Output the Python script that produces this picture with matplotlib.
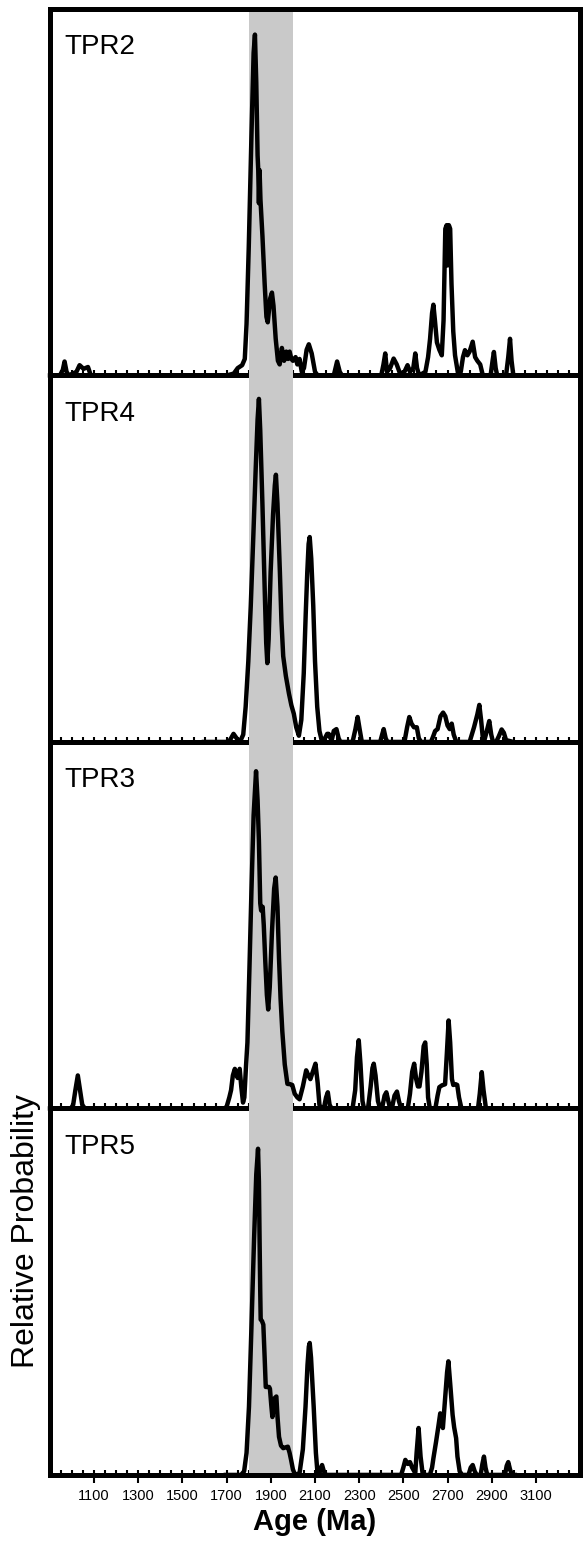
import numpy as np
import matplotlib
matplotlib.use("Agg")
import matplotlib.pyplot as plt

plt.rcParams["font.family"] = ["Liberation Sans", "DejaVu Sans"]

# probability curves: age (Ma) vs relative probability (0-1 of panel height)
tpr2_age = [900, 945, 958, 966, 975, 985, 1020, 1034, 1052, 1072, 1085, 1100,
            1700, 1732, 1750, 1770, 1782, 1790, 1800, 1812, 1822, 1828, 1834, 1840, 1843, 1846,
            1849, 1853, 1862, 1872, 1880, 1886, 1897, 1905, 1912, 1922, 1932, 1940, 1950, 1960,
            1970, 1978, 1985, 1993, 2000, 2012, 2020, 2030, 2040, 2050, 2062, 2072, 2085, 2100,
            2112, 2185, 2200, 2212, 2222,
            2400, 2410, 2418, 2426, 2440, 2456, 2470, 2485, 2505, 2519, 2530, 2545, 2554, 2562,
            2572, 2600, 2612, 2621, 2630, 2636, 2643, 2652, 2663, 2674, 2682, 2690, 2696, 2700,
            2706, 2712, 2718, 2726, 2734, 2749, 2760, 2770, 2779, 2790, 2800, 2814, 2825, 2835,
            2848, 2860, 2895, 2904, 2910, 2918, 2925, 2965, 2975, 2983, 2990, 2998, 3208]
tpr2_prob = [0, 0, 0.015, 0.038, 0.01, 0, 0.01, 0.028, 0.018, 0.023, 0.0, 0,
             0, 0.005, 0.02, 0.028, 0.045, 0.14, 0.35, 0.65, 0.88, 0.93, 0.8, 0.6, 0.56, 0.47,
             0.56, 0.48, 0.38, 0.25, 0.16, 0.145, 0.21, 0.226, 0.19, 0.1, 0.04, 0.03, 0.075, 0.04,
             0.065, 0.045, 0.065, 0.045, 0.04, 0.05, 0.03, 0.045, 0.01, 0.02, 0.07, 0.085, 0.06, 0.01,
             0, 0, 0.038, 0.01, 0,
             0, 0.03, 0.06, 0.01, 0.02, 0.046, 0.03, 0.005, 0.01, 0.028, 0.01, 0.02, 0.06, 0.02,
             0, 0.01, 0.05, 0.1, 0.17, 0.193, 0.15, 0.09, 0.07, 0.055, 0.15, 0.40, 0.41, 0.30,
             0.41, 0.40, 0.25, 0.12, 0.055, 0.0, 0.01, 0.05, 0.069, 0.055, 0.065, 0.092, 0.05, 0.04,
             0.03, 0.0, 0, 0.04, 0.064, 0.02, 0, 0, 0.05, 0.1, 0.04, 0, 0]

tpr4_age = [1597, 1700, 1715, 1731, 1745, 1760, 1775, 1786, 1798, 1809, 1820, 1831, 1840, 1846,
            1852, 1862, 1872, 1879, 1884, 1890, 1899, 1910, 1918, 1923, 1930, 1941, 1948, 1956,
            1968, 1982, 1993, 2004, 2015, 2027, 2038, 2049, 2058, 2065, 2071, 2076, 2083, 2092,
            2100, 2110, 2120, 2132, 2145, 2155, 2162, 2170, 2177, 2185, 2197, 2207, 2215,
            2270, 2283, 2293, 2302, 2312, 2395, 2404, 2411, 2420, 2428, 2505, 2517, 2527, 2537,
            2548, 2561, 2570, 2580, 2625, 2635, 2644, 2655, 2668, 2680, 2690, 2700, 2710, 2719,
            2728, 2740, 2800, 2810, 2820, 2835, 2844, 2852, 2860, 2867, 2878, 2889, 2898, 2906,
            2920, 2932, 2945, 2955, 2965, 2998]
tpr4_prob = [0, 0, 0.005, 0.022, 0.01, 0.0, 0.02, 0.096, 0.22, 0.37, 0.55, 0.738, 0.88, 0.936,
             0.85, 0.647, 0.42, 0.27, 0.215, 0.28, 0.463, 0.62, 0.70, 0.729, 0.65, 0.463, 0.33, 0.234,
             0.18, 0.132, 0.1, 0.077, 0.04, 0.017, 0.06, 0.187, 0.35, 0.463, 0.54, 0.559, 0.50, 0.372,
             0.22, 0.096, 0.03, 0.0, 0.01, 0.022, 0.022, 0.01, 0.008, 0.03, 0.035, 0.01, 0,
             0, 0.035, 0.068, 0.035, 0, 0, 0.02, 0.035, 0.01, 0, 0, 0.04, 0.068, 0.05,
             0.04, 0.04, 0.01, 0, 0.0, 0.015, 0.03, 0.035, 0.07, 0.08, 0.07, 0.045, 0.035, 0.05,
             0.02, 0, 0.0, 0.02, 0.04, 0.075, 0.101, 0.06, 0.01, 0.005, 0.03, 0.057, 0.02, 0.0,
             0.0, 0.015, 0.034, 0.025, 0.005, 0]

tpr3_age = [900, 995, 1005, 1015, 1026, 1036, 1046, 1058, 1690, 1700, 1712, 1720, 1728, 1737,
            1745, 1750, 1759, 1766, 1774, 1780, 1788, 1794, 1803, 1812, 1822, 1833, 1840, 1846,
            1852, 1856, 1863, 1868, 1875, 1882, 1888, 1895, 1905, 1915, 1922, 1930, 1937, 1944,
            1952, 1963, 1975, 1988, 1997, 2008, 2020, 2030, 2045, 2060, 2070, 2079, 2090, 2102,
            2112, 2120, 2128, 2140, 2150, 2158, 2166, 2175, 2270, 2282, 2290, 2298, 2306, 2315,
            2322, 2340, 2352, 2360, 2366, 2374, 2385, 2395, 2405, 2415, 2423, 2432, 2440, 2448,
            2460, 2471, 2480, 2490, 2520, 2530, 2540, 2549, 2558, 2566, 2573, 2582, 2592, 2599,
            2606, 2612, 2620, 2645, 2655, 2663, 2675, 2689, 2697, 2705, 2712, 2720, 2726, 2737,
            2744, 2752, 2763, 2838, 2846, 2855, 2863, 2874, 3005]
tpr3_prob = [0, 0, 0.01, 0.05, 0.09, 0.05, 0.01, 0, 0, 0.005, 0.03, 0.05, 0.09, 0.108,
             0.09, 0.083, 0.108, 0.06, 0.016, 0.03, 0.12, 0.18, 0.38, 0.59, 0.8, 0.92, 0.84, 0.73,
             0.56, 0.54, 0.55, 0.5, 0.4, 0.31, 0.27, 0.33, 0.48, 0.6, 0.63, 0.55, 0.41, 0.3,
             0.21, 0.12, 0.067, 0.066, 0.064, 0.04, 0.03, 0.025, 0.06, 0.104, 0.09, 0.08, 0.1, 0.122,
             0.07, 0.01, 0.0, 0.0, 0.03, 0.044, 0.01, 0, 0, 0.05, 0.14, 0.186, 0.12, 0.02,
             0, 0, 0.06, 0.11, 0.122, 0.09, 0.02, 0, 0.005, 0.035, 0.044, 0.02, 0.0, 0.0,
             0.035, 0.046, 0.02, 0, 0, 0.04, 0.1, 0.122, 0.08, 0.06, 0.06, 0.1, 0.17, 0.18,
             0.12, 0.03, 0, 0, 0.035, 0.058, 0.063, 0.066, 0.15, 0.24, 0.18, 0.08, 0.064, 0.066,
             0.064, 0.03, 0, 0, 0.04, 0.099, 0.05, 0, 0]

tpr5_age = [1696, 1740, 1765, 1779, 1790, 1801, 1812, 1824, 1834, 1842, 1846, 1849, 1852, 1854,
            1860, 1866, 1872, 1877, 1885, 1892, 1896, 1902, 1907, 1912, 1918, 1925, 1930, 1937,
            1946, 1956, 1966, 1977, 1985, 1992, 2000, 2010, 2030, 2045, 2057, 2066, 2072, 2076,
            2082, 2094, 2104, 2112, 2120, 2127, 2132, 2140, 2150, 2490, 2500, 2509, 2520, 2530,
            2540, 2554, 2560, 2569, 2578, 2588, 2620, 2630, 2636, 2648, 2658, 2667, 2673, 2679,
            2688, 2698, 2704, 2712, 2723, 2730, 2739, 2745, 2755, 2766, 2795, 2805, 2814, 2823,
            2832, 2850, 2858, 2865, 2872, 2880, 2960, 2968, 2975, 2983, 2992, 3005]
tpr5_prob = [0, 0, 0.0, 0.01, 0.06, 0.186, 0.4, 0.643, 0.82, 0.89, 0.8, 0.643, 0.5, 0.424,
             0.42, 0.41, 0.32, 0.24, 0.24, 0.24, 0.235, 0.19, 0.158, 0.18, 0.21, 0.214, 0.16, 0.104,
             0.08, 0.073, 0.075, 0.077, 0.06, 0.04, 0.015, 0.0, 0.005, 0.07, 0.186, 0.3, 0.35, 0.36,
             0.32, 0.186, 0.06, 0.0, 0.005, 0.02, 0.027, 0.01, 0.0, 0, 0.02, 0.041, 0.03, 0.035,
             0.02, 0.005, 0.06, 0.128, 0.05, 0, 0, 0.02, 0.045, 0.09, 0.13, 0.168, 0.14, 0.128,
             0.2, 0.28, 0.31, 0.25, 0.164, 0.13, 0.1, 0.05, 0.01, 0, 0, 0.02, 0.027, 0.01,
             0, 0.0, 0.03, 0.05, 0.02, 0, 0, 0.025, 0.035, 0.015, 0, 0]

samples = ["TPR2", "TPR4", "TPR3", "TPR5"]
ages = [tpr2_age, tpr4_age, tpr3_age, tpr5_age]
probs = [tpr2_prob, tpr4_prob, tpr3_prob, tpr5_prob]

band = (1800, 2000)
major_ticks = np.arange(1100, 3101, 200)
minor_ticks = np.arange(950, 3251, 50)

fig = plt.figure(figsize=(5.84, 15.42), dpi=100)
gs = fig.add_gridspec(4, 1, left=0.0856, right=0.9932, top=0.9942, bottom=0.0435, hspace=0)
axes = [fig.add_subplot(gs[i]) for i in range(4)]

SPW = 3.6
for k, ax in enumerate(axes):
    last = k == 3
    ax.set_facecolor("none")
    ax.set_xlim(900, 3300)
    ax.set_ylim(0, 1)
    ax.set_yticks([])
    for s in ax.spines.values():
        s.set_linewidth(SPW)
    ax.spines["bottom"].set_visible(last)
    if k > 0:
        ax.spines["top"].set_zorder(0.5)
    ax.xaxis.set_zorder(0.6)   # band hides the baseline ticks inside it
    ax.axvspan(*band, ymin=0 if last else -0.01, ymax=1 if k == 0 else 1.01,
               color="#c9c9c9", lw=0, zorder=1, clip_on=False)
    ax.plot(ages[k], probs[k], color="k", lw=3.2, zorder=3, clip_on=False,
            solid_joinstyle="round")
    ax.text(0.027, 0.877, samples[k], transform=ax.transAxes, fontsize=20, va="baseline")

    ax.set_xticks(major_ticks)
    ax.set_xticks(minor_ticks, minor=True)
    ax.xaxis.remove_overlapping_locs = False
    ax.tick_params(axis="x", which="minor", direction="in", length=3.5, width=1.5)
    if last:
        ax.tick_params(axis="x", which="major", direction="out", length=6, width=1.5,
                       labelsize=10.5, pad=4)
    else:
        ax.tick_params(axis="x", which="major", length=0, labelbottom=False)

fig.text(26 / 584, 1 - 1231 / 1542, "Relative Probability", rotation=90,
         fontsize=23, ha="center", va="center")
fig.text(315 / 584, 1 - 1530 / 1542, "Age (Ma)", fontsize=21, fontweight="bold",
         ha="center", va="baseline")

fig.savefig("out.png", dpi=100)
